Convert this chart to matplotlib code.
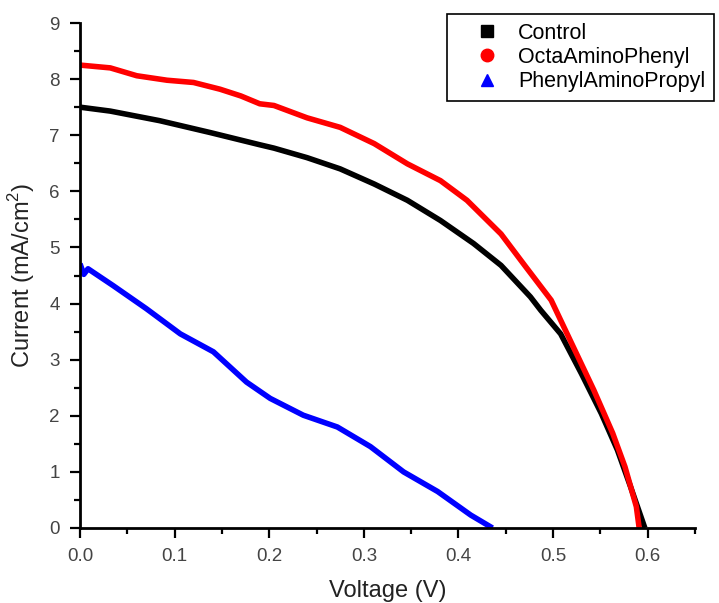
#!/usr/bin/env python3
"""J-V curves for the control and the two amino-functionalised devices."""

import matplotlib

matplotlib.use("Agg")
import matplotlib.pyplot as plt
from matplotlib.lines import Line2D
from matplotlib.ticker import MultipleLocator

# values (voltage in V, current in mA/cm^2)
control_v = [0.0, 0.032, 0.084, 0.137, 0.19, 0.205, 0.24, 0.275, 0.311, 0.346,
             0.381, 0.416, 0.445, 0.476, 0.487, 0.508, 0.530, 0.551, 0.568, 0.582, 0.597]
control_j = [7.50, 7.43, 7.26, 7.05, 6.83, 6.77, 6.60, 6.40, 6.13, 5.84,
             5.48, 5.07, 4.68, 4.12, 3.88, 3.46, 2.75, 2.04, 1.39, 0.73, 0.0]

octa_v = [0.0, 0.032, 0.06, 0.092, 0.12, 0.148, 0.17, 0.19, 0.205, 0.24, 0.275,
          0.311, 0.346, 0.381, 0.409, 0.445, 0.47, 0.498, 0.523, 0.543, 0.563,
          0.576, 0.588, 0.591]
octa_j = [8.25, 8.20, 8.06, 7.98, 7.94, 7.82, 7.70, 7.56, 7.53, 7.31, 7.14,
          6.85, 6.49, 6.19, 5.84, 5.24, 4.68, 4.06, 3.17, 2.46, 1.69,
          1.09, 0.38, 0.0]

propyl_v = [0.0, 0.004, 0.0085, 0.012, 0.035, 0.070, 0.106, 0.141, 0.176, 0.201,
            0.236, 0.272, 0.307, 0.342, 0.378, 0.413, 0.436]
propyl_j = [4.71, 4.52, 4.62, 4.58, 4.32, 3.91, 3.46, 3.14, 2.60, 2.31,
            2.01, 1.80, 1.45, 1.00, 0.65, 0.23, 0.0]

SERIES = [
    ("Control", control_v, control_j, "black", "s"),
    ("OctaAminoPhenyl", octa_v, octa_j, "red", "o"),
    ("PhenylAminoPropyl", propyl_v, propyl_j, "blue", "^"),
]

W, H = 719, 603

plt.rcParams["font.family"] = ["Liberation Sans", "DejaVu Sans"]
plt.rcParams["mathtext.fontset"] = "custom"
plt.rcParams["mathtext.rm"] = "Liberation Sans"

fig = plt.figure(figsize=(W / 100, H / 100), dpi=100)
ax = fig.add_axes([80 / W, 1 - 528 / H, (695 - 80) / W, (528 - 23) / H])

for label, v, j, color, _ in SERIES:
    ax.plot(v, j, color=color, lw=4, solid_capstyle="butt", label=label)

ax.set_xlim(0, 0.65)
ax.set_ylim(0, 9)
ax.xaxis.set_major_locator(MultipleLocator(0.1))
ax.xaxis.set_minor_locator(MultipleLocator(0.05))
ax.yaxis.set_major_locator(MultipleLocator(1))
ax.yaxis.set_minor_locator(MultipleLocator(0.5))
ax.xaxis.set_major_formatter(lambda x, pos: f"{x:.1f}")

for side in ("top", "right"):
    ax.spines[side].set_visible(False)
for side in ("left", "bottom"):
    ax.spines[side].set_linewidth(2)

ax.tick_params(which="major", direction="out", length=7.5, width=1.6,
               labelsize=13.5, labelcolor="#444444", pad=7)
ax.tick_params(which="minor", direction="out", length=4, width=1.6)

ax.set_xlabel("Voltage (V)", fontsize=17, color="#222222", labelpad=11)
ax.set_ylabel("Current (mA/cm$^2$)", fontsize=17, color="#222222", labelpad=9)

handles = [Line2D([], [], ls="none", marker=m, color=c, markersize=9, label=lab)
           for lab, _, _, c, m in SERIES]
ax.legend(handles=handles, loc="upper left", bbox_to_anchor=(447 / W, 1 - 14 / H),
          bbox_transform=fig.transFigure, borderaxespad=0, fontsize=15.5,
          frameon=True, fancybox=False, edgecolor="black", framealpha=1,
          borderpad=0.4, handlelength=2.9, handletextpad=0.0, labelspacing=0.15)
ax.get_legend().get_frame().set_linewidth(1.2)

fig.savefig("out.png", dpi=100)
